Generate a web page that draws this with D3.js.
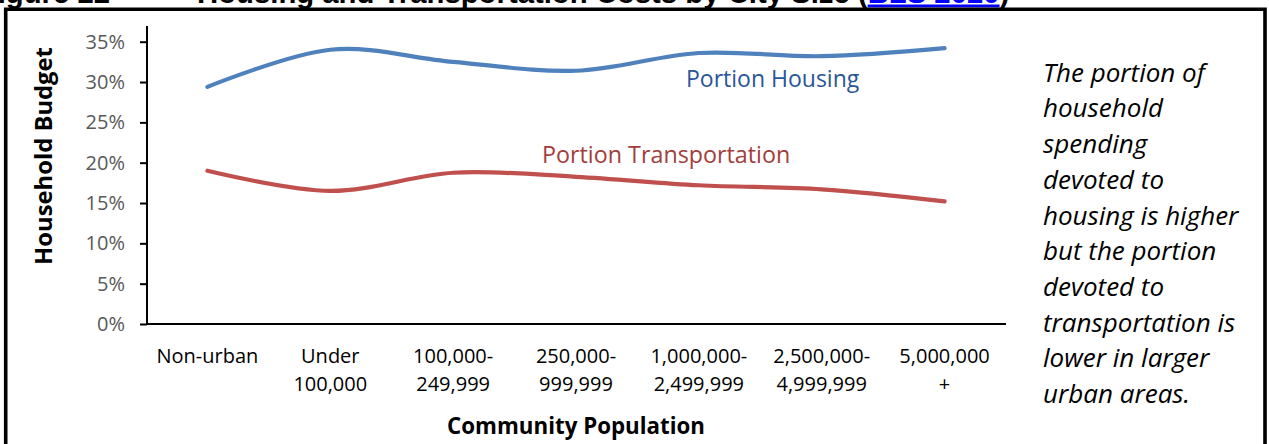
<!DOCTYPE html>
<html>
<head>
<meta charset="utf-8">
<script src="https://cdn.jsdelivr.net/npm/d3@7"></script>
<style>
  html, body { margin: 0; padding: 0; background: #fff; overflow: hidden; }
  svg { display: block; }
</style>
</head>
<body>
<svg id="chart" width="1269" height="444"></svg>
<script>
// ---- data ----
const categories = [
  ["Non-urban"],
  ["Under", "100,000"],
  ["100,000-", "249,999"],
  ["250,000-", "999,999"],
  ["1,000,000-", "2,499,999"],
  ["2,500,000-", "4,999,999"],
  ["5,000,000", "+"]
];
const housing = [0.294, 0.340, 0.325, 0.314, 0.336, 0.332, 0.342];
const transportation = [0.190, 0.165, 0.1875, 0.1825, 0.172, 0.167, 0.152];
const yTicks = [0, 0.05, 0.10, 0.15, 0.20, 0.25, 0.30, 0.35];
const seriesNames = ["Portion Housing", "Portion Transportation"];
const noteLines = [
  "The portion of", "household", "spending", "devoted to",
  "housing is higher", "but the portion", "devoted to",
  "transportation is", "lower in larger", "urban areas."
];
const titleMain = "Housing and Transportation Costs by City Size (";
const titleLink = "BLS 2020";

// ---- layout ----
const svg = d3.select("#chart");
const font = "'Open Sans', 'Noto Sans', sans-serif";
const x0 = 146, x1 = 1006, yBottom = 324, yTopTick = 41.7, yAxisTop = 26;

const x = d3.scaleBand().domain(d3.range(categories.length)).range([x0, x1]);
const y = d3.scaleLinear().domain([0, 0.35]).range([yBottom, yTopTick]);

// title (cropped at top, as in the reference)
const titleFont = "'Liberation Sans', Arial, sans-serif";
svg.append("text")
  .attr("x", 110).attr("y", 2.5)
  .attr("text-anchor", "end")
  .style("font-family", titleFont)
  .style("font-weight", "bold")
  .style("font-size", "29.3px")
  .text("Figure 22");
const title = svg.append("text")
  .attr("x", 197).attr("y", 2.5)
  .style("font-family", titleFont)
  .style("font-weight", "bold")
  .style("font-size", "29.3px")
  .attr("fill", "#000");
title.append("tspan").text(titleMain);
title.append("tspan").attr("fill", "#0000ff").style("text-decoration", "underline").text(titleLink);
title.append("tspan").text(")");

// frame
svg.append("path")
  .attr("d", `M5.7,460 V9.2 H1265 V460`)
  .attr("fill", "none")
  .attr("stroke", "#000")
  .attr("stroke-width", 3.6);

// y axis
const yAxisG = svg.append("g").attr("transform", `translate(${x0 + 1},0)`);
yAxisG.append("line")
  .attr("x1", 0).attr("x2", 0).attr("y1", yAxisTop).attr("y2", yBottom + 1)
  .attr("stroke", "#000").attr("stroke-width", 2);
yAxisG.call(d3.axisLeft(y).tickValues(yTicks).tickFormat(d3.format(".0%")).tickSize(7).tickPadding(15))
  .call(g => g.select(".domain").remove())
  .call(g => g.selectAll(".tick line").attr("stroke", "#000").attr("stroke-width", 2))
  .call(g => g.selectAll(".tick text")
    .attr("fill", "#595959")
    .style("font-family", font)
    .style("font-size", "20px"));

// x axis line
svg.append("line")
  .attr("x1", x0).attr("x2", x1).attr("y1", yBottom).attr("y2", yBottom)
  .attr("stroke", "#000").attr("stroke-width", 2);

// category labels
const catG = svg.append("g");
categories.forEach((lines, i) => {
  const t = catG.append("text")
    .attr("text-anchor", "middle")
    .attr("fill", "#000")
    .style("font-family", font)
    .style("font-size", "20px");
  lines.forEach((ln, j) => {
    t.append("tspan")
      .attr("x", x(i) + x.bandwidth() / 2)
      .attr("y", 363 + j * 28)
      .text(ln);
  });
});

// axis titles
svg.append("text")
  .attr("x", (x0 + x1) / 2).attr("y", 434)
  .attr("text-anchor", "middle")
  .style("font-family", font).style("font-weight", "bold").style("font-size", "22.3px")
  .attr("fill", "#000")
  .text("Community Population");
svg.append("text")
  .attr("transform", "translate(52,156) rotate(-90)")
  .attr("text-anchor", "middle")
  .style("font-family", font).style("font-weight", "bold").style("font-size", "23.8px")
  .attr("fill", "#000")
  .text("Household Budget");

// lines
const line = d3.line()
  .x((d, i) => x(i) + x.bandwidth() / 2)
  .y(d => y(d))
  .curve(d3.curveCatmullRom.alpha(0));

svg.append("path").datum(housing)
  .attr("d", line).attr("fill", "none")
  .attr("stroke", "#4f81bd").attr("stroke-width", 4.2).attr("stroke-linecap", "round");
svg.append("path").datum(transportation)
  .attr("d", line).attr("fill", "none")
  .attr("stroke", "#c0504d").attr("stroke-width", 4.2).attr("stroke-linecap", "round");

// series labels
svg.append("text")
  .attr("x", 686).attr("y", 87)
  .style("font-family", font).style("font-size", "23px")
  .attr("fill", "#2a5597")
  .text(seriesNames[0]);
svg.append("text")
  .attr("x", 542).attr("y", 163)
  .style("font-family", font).style("font-size", "23.3px")
  .attr("fill", "#a33e3b")
  .text(seriesNames[1]);

// note
const note = svg.append("text")
  .style("font-family", font).style("font-style", "italic").style("font-size", "26px")
  .attr("fill", "#000");
noteLines.forEach((ln, i) => {
  note.append("tspan").attr("x", 1043).attr("y", 81.7 + i * 35.7).text(ln);
});
</script>
</body>
</html>
